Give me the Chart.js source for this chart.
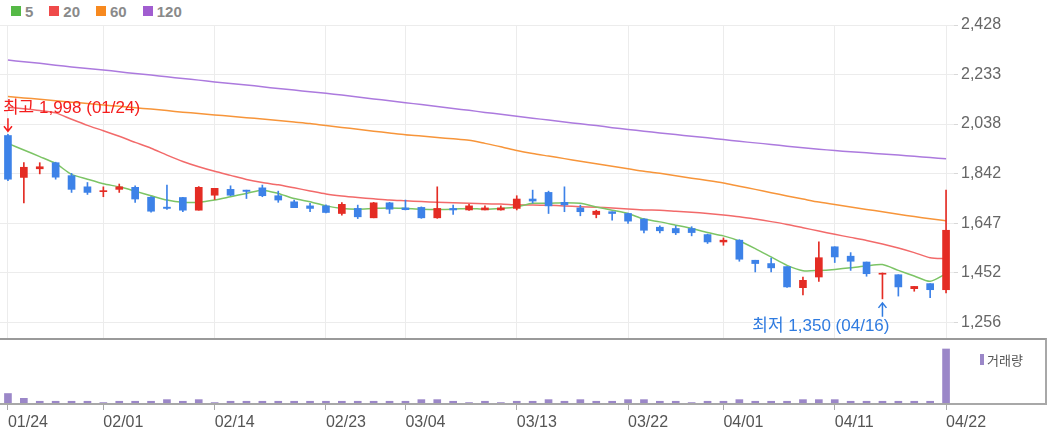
<!DOCTYPE html>
<html>
<head>
<meta charset="utf-8">
<script src="https://cdn.jsdelivr.net/npm/chart.js@4.4.1/dist/chart.umd.min.js"></script>
<style>
  body { margin: 0; background: #fff; width: 1050px; height: 434px; overflow: hidden; position: relative; font-family: "Liberation Sans", Arial, sans-serif; }
  #priceBox { position: absolute; left: 0; top: 0; width: 1050px; height: 340px; }
  #volBox { position: absolute; left: 0; top: 339px; width: 1050px; height: 95px; }
  #volFrame { position: absolute; left: 0; top: 338px; width: 1045px; height: 63px; border-top: 2px solid #9a9a9a; border-right: 2px solid #a8a8a8; border-bottom: 2px solid #a8a8a8; pointer-events: none; }
  .legend { position: absolute; top: 0; left: 11px; height: 22px; display: flex; align-items: center; gap: 16px; font: bold 15px "Liberation Sans", Arial, sans-serif; color: #8a8a8a; }
  .legend span { display: flex; align-items: center; }
  .legend i { display: inline-block; width: 10px; height: 10px; margin-right: 4px; }
  .volLegend { position: absolute; left: 980px; top: 350px; display: flex; align-items: center; font: 13px "Noto Sans CJK KR", sans-serif; color: #555; }
  .volLegend i { display: inline-block; width: 4px; height: 11px; background: #9b87c8; margin-right: 3px; }
</style>
</head>
<body>
<div class="legend">
  <span><i style="background:#55b946"></i>5</span>
  <span><i style="background:#ef4a4a"></i>20</span>
  <span><i style="background:#f7891f"></i>60</span>
  <span><i style="background:#a15dd0"></i>120</span>
</div>
<div id="priceBox"><canvas id="priceChart"></canvas></div>
<div id="volBox"><canvas id="volChart"></canvas></div>
<div id="volFrame"></div>
<div class="volLegend"><i></i>거래량</div>

<script>
// 일봉 데이터 (01/24 ~ 04/22)
const dates = ["01/24","01/25","01/26","01/29","01/30","01/31","02/01","02/02","02/05","02/06",
  "02/07","02/08","02/13","02/14","02/15","02/16","02/19","02/20","02/21","02/22",
  "02/23","02/26","02/27","02/28","02/29","03/04","03/05","03/06","03/07","03/08",
  "03/11","03/12","03/13","03/14","03/15","03/18","03/19","03/20","03/21","03/22",
  "03/25","03/26","03/27","03/28","03/29","04/01","04/02","04/03","04/04","04/05",
  "04/08","04/09","04/11","04/12","04/15","04/16","04/17","04/18","04/19","04/22"];
const shownDates = ["01/24","02/01","02/14","02/23","03/04","03/13","03/22","04/01","04/11","04/22"];

const opens = [1993,1828,1862,1886,1835,1791,1772,1781,1789,1750,1711,1749,1699,1758,1781,1778,1787,1756,1732,1716,
  1716,1686,1706,1669,1728,1708,1710,1669,1706,1700,1700,1700,1706,1743,1769,1730,1708,1682,1693,1686,
  1664,1632,1627,1627,1603,1574,1581,1502,1489,1477,1394,1436,1555,1518,1495,1447,1445,1390,1410,1386];
const highs = [1998,1886,1886,1888,1844,1808,1791,1802,1795,1753,1798,1750,1792,1785,1795,1778,1798,1774,1739,1726,
  1720,1729,1719,1730,1730,1739,1712,1791,1719,1722,1716,1716,1756,1778,1774,1791,1719,1699,1693,1688,
  1666,1637,1637,1634,1605,1590,1583,1502,1511,1477,1436,1574,1555,1532,1495,1452,1445,1399,1410,1778];
const lows = [1815,1728,1842,1821,1769,1761,1752,1769,1730,1691,1702,1693,1699,1741,1756,1745,1752,1730,1709,1693,
  1688,1679,1666,1669,1686,1700,1667,1667,1682,1698,1700,1699,1700,1727,1686,1693,1677,1669,1660,1647,
  1610,1610,1603,1598,1568,1561,1498,1456,1456,1395,1366,1419,1493,1462,1439,1350,1361,1380,1355,1373];
const closes = [1821,1868,1870,1829,1781,1769,1776,1791,1743,1695,1706,1699,1789,1785,1758,1773,1756,1739,1709,1706,
  1690,1722,1673,1728,1703,1701,1669,1706,1700,1716,1708,1708,1743,1735,1716,1720,1693,1695,1686,1656,
  1620,1618,1610,1611,1574,1581,1506,1489,1472,1397,1423,1512,1515,1498,1449,1451,1397,1399,1386,1620];

const ma5 = [1962,1936,1910,1883,1840,1821,1803,1791,1774,1756,1739,1730,1730,1739,1752,1765,1778,1765,1745,1732,
  1716,1706,1703,1706,1708,1706,1703,1702,1703,1706,1703,1706,1712,1726,1726,1728,1726,1712,1699,1686,
  1664,1653,1640,1627,1611,1598,1578,1548,1515,1482,1461,1462,1466,1472,1480,1485,1462,1440,1419,1449];
const ma20 = [2104,2098,2091,2082,2057,2033,2012,1990,1966,1943,1916,1891,1870,1852,1836,1820,1808,1799,1787,1775,
  1763,1755,1749,1744,1739,1736,1733,1730,1728,1726,1724,1723,1720,1719,1718,1716,1713,1711,1708,1704,
  1700,1699,1695,1691,1686,1680,1673,1664,1654,1643,1630,1617,1604,1592,1580,1566,1550,1532,1512,1508];
const ma60 = [2147,2141,2136,2130,2124,2119,2113,2108,2102,2097,2091,2085,2080,2074,2069,2063,2058,2052,2046,2040,
  2032,2025,2018,2010,2003,1996,1991,1985,1980,1974,1962,1949,1934,1922,1912,1902,1892,1882,1872,1862,
  1852,1844,1835,1825,1816,1806,1793,1781,1768,1755,1743,1731,1721,1712,1702,1693,1683,1674,1665,1657];
const ma120 = [2290,2283,2277,2270,2263,2257,2251,2244,2237,2231,2224,2217,2211,2204,2198,2192,2185,2178,2172,2165,
  2159,2152,2145,2137,2130,2122,2115,2107,2099,2092,2084,2077,2069,2061,2054,2046,2039,2032,2024,2017,
  2010,2003,1997,1990,1984,1977,1970,1964,1958,1951,1945,1939,1934,1929,1925,1920,1916,1911,1906,1902];

const vols = [930,460,170,170,170,170,40,170,170,170,330,170,330,40,170,170,170,170,170,170,
  170,170,170,170,170,170,330,330,170,40,170,40,170,170,330,170,330,170,170,330,
  330,170,170,40,170,170,330,170,170,170,330,330,330,170,170,170,170,170,170,5300];

const priceTicks = [2428, 2233, 2038, 1842, 1647, 1452, 1256];

const UP = "#e42c24";
const DOWN = "#3d82e8";
const candleColors = opens.map((o, i) => (closes[i] >= o ? UP : DOWN));
const fmt = (v) => v.toLocaleString("en-US");

function gridColor(ctx, color) {
  return shownDates.includes(dates[ctx.index]) ? color : "rgba(0,0,0,0)";
}

function drawArrow(ctx, x, y1, y2) {
  // y1 -> y2 방향으로 화살표
  const dir = y2 > y1 ? 1 : -1;
  ctx.beginPath();
  ctx.moveTo(x, y1);
  ctx.lineTo(x, y2);
  ctx.moveTo(x - 4, y2 - dir * 5);
  ctx.lineTo(x, y2);
  ctx.lineTo(x + 4, y2 - dir * 5);
  ctx.stroke();
}

// 최고 / 최저 표시
const markPlugin = {
  id: "marks",
  afterDatasetsDraw(chart) {
    const { ctx, scales } = chart;
    const hi = highs.indexOf(Math.max(...highs));
    const lo = lows.indexOf(Math.min(...lows));
    ctx.save();
    ctx.font = '17px "Liberation Sans", "Noto Sans CJK KR", sans-serif';
    ctx.textBaseline = "middle";
    ctx.lineWidth = 1.5;

    let px = scales.x.getPixelForValue(hi);
    let py = scales.y.getPixelForValue(highs[hi]);
    ctx.fillStyle = ctx.strokeStyle = "#f41d1d";
    ctx.textAlign = "left";
    ctx.fillText(`최고 ${fmt(highs[hi])} (${dates[hi]})`, px - 5, py - 26);
    drawArrow(ctx, px, py - 16, py - 3);

    px = scales.x.getPixelForValue(lo);
    py = scales.y.getPixelForValue(lows[lo]);
    ctx.fillStyle = ctx.strokeStyle = "#2f7be0";
    ctx.textAlign = "right";
    ctx.fillText(`최저 ${fmt(lows[lo])} (${dates[lo]})`, px + 7, py + 27);
    drawArrow(ctx, px, py + 18, py + 4);
    ctx.restore();
  },
};

function maLine(data, color) {
  return {
    type: "line",
    data: data,
    borderColor: color,
    borderWidth: 1.5,
    pointRadius: 0,
    tension: 0.25,
    order: 2,
  };
}

const priceChart = new Chart(document.getElementById("priceChart"), {
  type: "bar",
  data: {
    labels: dates,
    datasets: [
      {
        data: lows.map((l, i) => [l, highs[i]]),
        backgroundColor: candleColors,
        barThickness: 1,
        grouped: false,
        order: 1,
      },
      {
        data: opens.map((o, i) => [o, closes[i]]),
        backgroundColor: candleColors,
        barThickness: 7,
        minBarLength: 1,
        grouped: false,
        order: 0,
      },
      maLine(ma5, "#7cc465"),
      maLine(ma20, "#f26a6a"),
      maLine(ma60, "#f7953a"),
      maLine(ma120, "#ac7ade"),
    ],
  },
  options: {
    responsive: true,
    maintainAspectRatio: false,
    animation: false,
    layout: { padding: { top: 25, bottom: 1, left: 0, right: 0 } },
    plugins: { legend: { display: false }, tooltip: { enabled: false } },
    scales: {
      x: {
        offset: true,
        grid: { offset: false, drawTicks: false, color: (c) => gridColor(c, "#ececec") },
        border: { display: false },
        ticks: { display: false, autoSkip: false },
        afterFit: (s) => {
          s.height = 0;
          s.paddingLeft = 0;
          s.paddingRight = 0;
        },
      },
      y: {
        position: "right",
        min: 1192,
        max: 2428,
        afterBuildTicks: (s) => { s.ticks = priceTicks.map((v) => ({ value: v })); },
        afterFit: (s) => {
          s.width = 96;
          s.paddingTop = 0;
          s.paddingBottom = 0;
        },
        grid: { color: "#ececec", tickLength: 4, tickColor: "#d8d8d8" },
        border: { display: false },
        ticks: {
          autoSkip: false,
          padding: 3,
          color: "#666",
          font: { family: "Liberation Sans", size: 16 },
          callback: (v) => fmt(v),
        },
      },
    },
  },
  plugins: [markPlugin],
});

const volChart = new Chart(document.getElementById("volChart"), {
  type: "bar",
  data: {
    labels: dates,
    datasets: [{ data: vols, backgroundColor: "#9b87c8", barThickness: 7 }],
  },
  options: {
    responsive: true,
    maintainAspectRatio: false,
    animation: false,
    layout: { padding: 0 },
    plugins: { legend: { display: false }, tooltip: { enabled: false } },
    scales: {
      x: {
        offset: true,
        grid: {
          offset: false,
          drawOnChartArea: false,
          tickLength: 7,
          color: (c) => gridColor(c, "#a8a8a8"),
        },
        border: { display: false },
        ticks: {
          autoSkip: false,
          maxRotation: 0,
          align: "start",
          padding: 3,
          color: "#555",
          font: { family: "Liberation Sans", size: 16 },
          callback: (v, i) => (shownDates.includes(dates[i]) ? dates[i] : ""),
        },
        afterFit: (s) => {
          s.height = 31;
          s.paddingLeft = 0;
          s.paddingRight = 0;
        },
      },
      y: {
        position: "right",
        min: 0,
        max: 6280,
        grid: { display: false },
        border: { display: false },
        ticks: { display: false },
        afterFit: (s) => {
          s.width = 96;
          s.paddingTop = 0;
          s.paddingBottom = 0;
        },
      },
    },
  },
});
</script>
</body>
</html>
